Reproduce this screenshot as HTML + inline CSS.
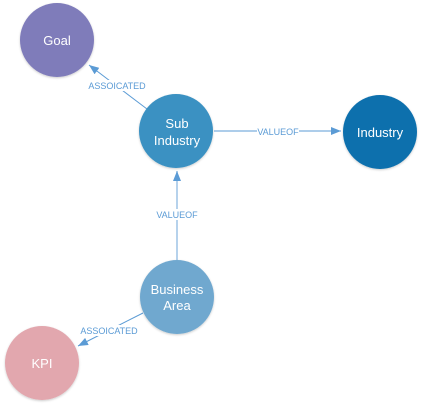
<!DOCTYPE html>
<html><head><meta charset="utf-8"><style>
html,body{margin:0;padding:0;background:#fff;}
svg{display:block;}
text{font-family:"Liberation Sans",sans-serif;}
</style></head><body>
<svg width="423" height="409" viewBox="0 0 423 409" xmlns="http://www.w3.org/2000/svg">
<defs>
<marker id="a" markerWidth="10" markerHeight="8" refX="10" refY="4" orient="auto" markerUnits="userSpaceOnUse">
<path d="M0,0 L10,4 L0,8 z" fill="#5b9bd5"/>
</marker>
<filter id="s" x="-20%" y="-20%" width="140%" height="140%"><feDropShadow dx="0" dy="1" stdDeviation="1" flood-color="#000" flood-opacity="0.2"/></filter>
</defs>
<g stroke="#5b9bd5" stroke-width="1" fill="none">
<line x1="147" y1="109" x2="89" y2="65" marker-end="url(#a)"/>
<line x1="214" y1="131" x2="341" y2="131" marker-end="url(#a)"/>
<line x1="143" y1="313" x2="78" y2="346" marker-end="url(#a)"/>
</g>
<line x1="177" y1="260" x2="177" y2="171" stroke="#9dc3e6" stroke-width="1.5" marker-end="url(#a)"/>
<g filter="url(#s)">
<circle cx="57" cy="40" r="37" fill="#7f7bba"/>
<circle cx="176" cy="131" r="37" fill="#3a91c2"/>
<circle cx="380" cy="132" r="37" fill="#0b6fad"/>
<circle cx="177" cy="297" r="37" fill="#70a8cf"/>
<circle cx="42" cy="363" r="37" fill="#e2a7ae"/>
</g>
<g fill="#fff" font-size="13" text-anchor="middle">
<text x="57" y="45">Goal</text>
<text x="177" y="128">Sub</text>
<text x="177" y="145">Industry</text>
<text x="380" y="137">Industry</text>
<text x="177" y="294">Business</text>
<text x="177" y="310">Area</text>
<text x="42" y="368">KPI</text>
</g>
<g font-size="9" text-anchor="middle" fill="#5b9bd5">
<rect x="93" y="80" width="48" height="11" fill="#fff"/>
<text x="117" y="89">ASSOICATED</text>
<rect x="257" y="126" width="42" height="11" fill="#fff"/>
<text x="278" y="135">VALUEOF</text>
<rect x="157" y="209" width="40" height="11" fill="#fff"/>
<text x="177" y="218">VALUEOF</text>
<rect x="85" y="325" width="48" height="11" fill="#fff"/>
<text x="109" y="334">ASSOICATED</text>
</g>
</svg>
</body></html>
